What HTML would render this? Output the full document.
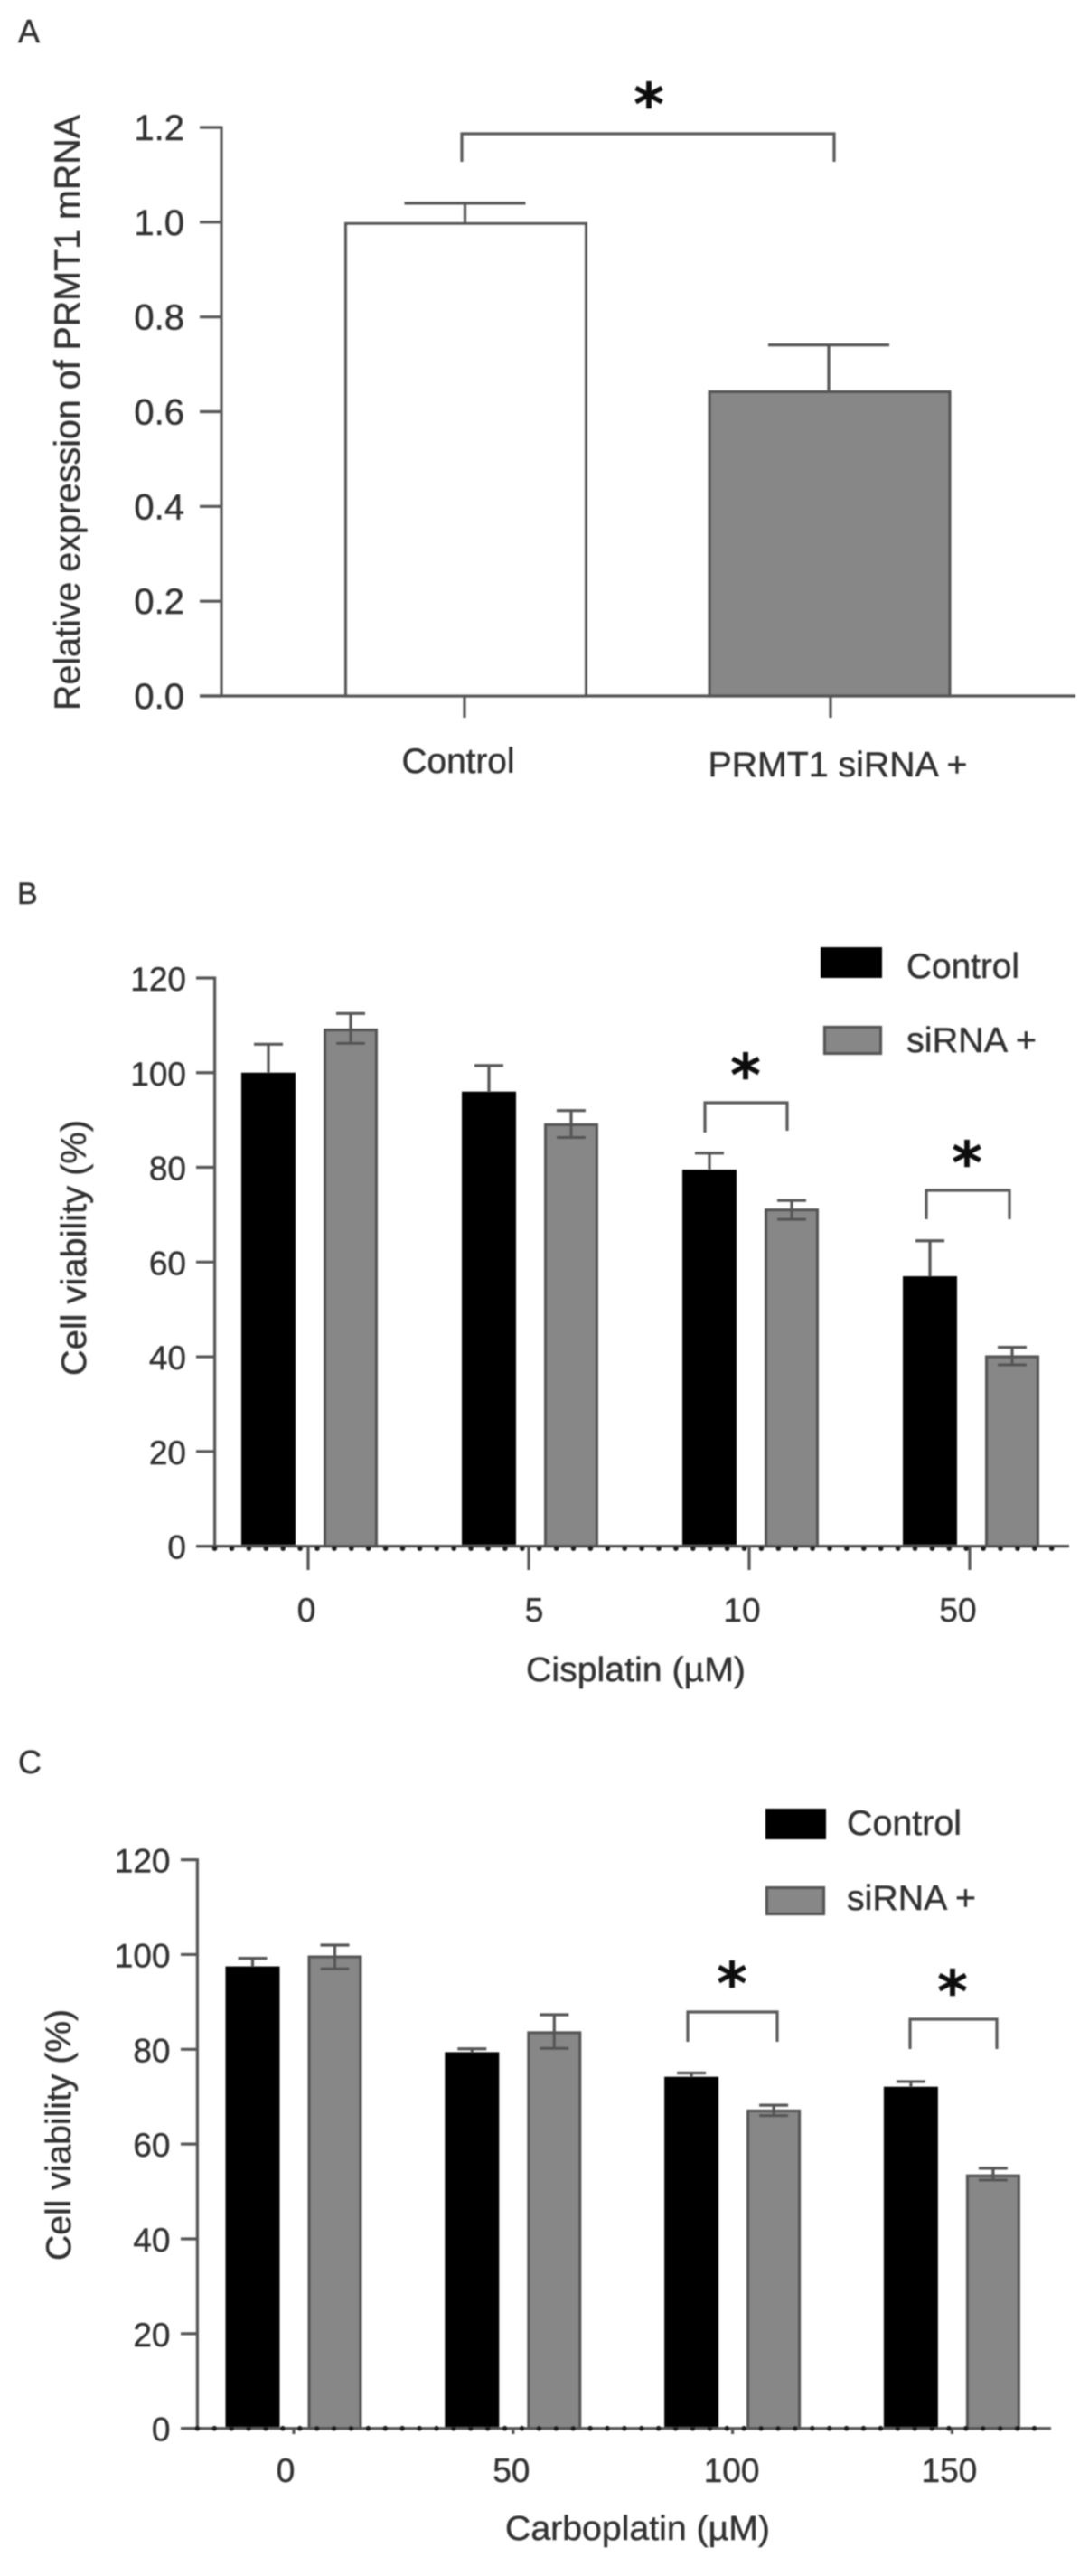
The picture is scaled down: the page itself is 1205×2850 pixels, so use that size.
<!DOCTYPE html>
<html lang="en">
<head>
<meta charset="utf-8">
<title>PRMT1 knockdown charts</title>
<style>
  html, body { margin: 0; padding: 0; background: #fff; }
  svg { display: block; }
  text { font-family: "Liberation Sans", Arial, sans-serif; fill: #333; stroke: #333; stroke-width: 0.45; }
  .star { font-family: "DejaVu Sans", sans-serif; font-weight: bold; font-size: 64px; fill: #111; stroke: #111; text-anchor: middle; }
  .bracket { fill: none; stroke: #5a5a5a; stroke-width: 3.2; }
</style>
</head>
<body>
<svg id="figure" xmlns="http://www.w3.org/2000/svg" width="1205" height="2850" viewBox="0 0 1205 2850">
  <defs>
    <filter id="soft" x="0" y="0" width="1" height="1" filterUnits="objectBoundingBox">
      <feGaussianBlur stdDeviation="0.8"/>
    </filter>
  </defs>
  <rect width="1205" height="2850" fill="#fff"/>
  <g filter="url(#soft)">
    <rect width="1205" height="2850" fill="#fff" fill-opacity="0"/>

    <g id="panel-a">
      <text x="20" y="47" font-size="36">A</text>
      <text transform="translate(88,786) rotate(-90)" font-size="40" textLength="659" lengthAdjust="spacingAndGlyphs">Relative expression of PRMT1 mRNA</text>
      <path class="bracket" d="M511,179V148H923V179"/>
      <text class="star" x="718" y="138">*</text>
    </g>

    <g id="panel-b">
      <text x="19" y="1000" font-size="34">B</text>
      <text transform="translate(95,1522) rotate(-90)" font-size="39" textLength="283" lengthAdjust="spacingAndGlyphs">Cell viability (%)</text>
      <text x="582" y="1860" font-size="38" textLength="243" lengthAdjust="spacingAndGlyphs">Cisplatin (µM)</text>
      <rect x="908" y="1048" width="68" height="34" fill="#000"/>
      <text x="1003" y="1082" font-size="39" textLength="125" lengthAdjust="spacingAndGlyphs">Control</text>
      <rect x="912.5" y="1136.5" width="62" height="29" fill="#878787" stroke="#555" stroke-width="3.2"/>
      <text x="1003" y="1164" font-size="39" textLength="144" lengthAdjust="spacingAndGlyphs">siRNA +</text>
      <path class="bracket" d="M780,1253V1220H871V1251"/>
      <text class="star" x="825" y="1212">*</text>
      <path class="bracket" d="M1025,1349V1317H1117V1349"/>
      <text class="star" x="1070" y="1309">*</text>
    </g>

    <g id="panel-c">
      <text x="20" y="1962" font-size="36">C</text>
      <text transform="translate(78,2501) rotate(-90)" font-size="39" textLength="278" lengthAdjust="spacingAndGlyphs">Cell viability (%)</text>
      <text x="559" y="2810" font-size="38" textLength="293" lengthAdjust="spacingAndGlyphs">Carboplatin (µM)</text>
      <rect x="847" y="2001" width="67" height="34" fill="#000"/>
      <text x="937" y="2030" font-size="39" textLength="127" lengthAdjust="spacingAndGlyphs">Control</text>
      <rect x="848.5" y="2088.5" width="63" height="29" fill="#878787" stroke="#555" stroke-width="3.2"/>
      <text x="937" y="2113" font-size="39" textLength="143" lengthAdjust="spacingAndGlyphs">siRNA +</text>
      <path class="bracket" d="M761,2259V2226H860V2259"/>
      <text class="star" x="810" y="2217">*</text>
      <path class="bracket" d="M1007,2267V2234H1103V2267"/>
      <text class="star" x="1054" y="2226">*</text>
    </g>
  </g>
</svg>
<script>
// Panel A data
var aCategories = ['Control', 'PRMT1 siRNA +'];
var aValues = [0.997, 0.642];
var aErrUpper = [1.04, 0.741];
var aYTicks = [0, 0.2, 0.4, 0.6, 0.8, 1.0, 1.2];

// Panel B data
var bCategories = ['0', '5', '10', '50'];
var bControl = [100, 96, 79.5, 57];
var bControlUpper = [106, 101.5, 83, 64.5];
var bSirna = [109, 89, 71, 40];
var bSirnaUpper = [112.5, 92, 73, 42];
var bSirnaLower = [106.2, 86.3, 69, 38.3];
var bYTicks = [0, 20, 40, 60, 80, 100, 120];

// Panel C data
var cCategories = ['0', '50', '100', '150'];
var cControl = [97.5, 79.4, 74.2, 72.1];
var cControlUpper = [99.2, 80.1, 75, 73.2];
var cSirna = [99.5, 83.5, 67, 53.3];
var cSirnaUpper = [102, 87.3, 68.2, 54.9];
var cSirnaLower = [97, 80.2, 66, 52.4];
var cYTicks = [0, 20, 40, 60, 80, 100, 120];

var NS = 'http://www.w3.org/2000/svg';
var LINE = '#555';
var GREY = '#878787';

function shape(parent, tag, attrs, text) {
  var el = document.createElementNS(NS, tag);
  for (var k in attrs) { el.setAttribute(k, attrs[k]); }
  if (text !== undefined) { el.textContent = text; }
  parent.appendChild(el);
  return el;
}

function segment(parent, x1, y1, x2, y2, width) {
  return shape(parent, 'line', { x1: x1, y1: y1, x2: x2, y2: y2, stroke: LINE, 'stroke-width': width || 3.2 });
}

function makeY(y0, yTop, max) {
  return function (v) { return y0 - v * (y0 - yTop) / max; };
}

function drawYAxis(host, o) {
  var y = o.y;
  var axis = segment(host, o.axisX, y(o.ticks[o.ticks.length - 1]) - 1.5, o.axisX, y(0), 3.2);
  
  
  o.ticks.forEach(function (t) {
    var tick = segment(host, o.tickX, y(t), o.axisX, y(t), 3.2);
    
    
    var label = shape(host, 'text', { x: o.labelX, y: y(t) + o.labelDy, 'font-size': o.fontSize, 'text-anchor': 'end' }, o.format(t));
    
    
  });
}

function drawXAxis(host, o) {
  var line = segment(host, o.x1, o.y0, o.x2, o.y0, 3.2);
  
  
  o.tickXs.forEach(function (tx, i) {
    var tick = segment(host, tx, o.y0, tx, o.tickBottom, 3.2);
    
    
    var label = shape(host, 'text', { x: tx + o.labelShift[i], y: o.labelYs[i], 'font-size': o.fontSize, 'text-anchor': 'middle' }, o.labels[i]);
    if (o.labelLength) {
      label.setAttribute('textLength', o.labelLength[i]);
      label.setAttribute('lengthAdjust', 'spacingAndGlyphs');
    }
    
    
  });
}

function drawBar(host, cx, w, value, y, fill, hasStroke) {
  var top = y(value), base = y(0);
  var inset = hasStroke ? 1.6 : 0;
  var bar = shape(host, 'rect', {
    x: cx - w / 2 + inset, y: top, width: w - 2 * inset, height: base - top,
    fill: fill, stroke: hasStroke ? LINE : 'none', 'stroke-width': hasStroke ? 3.2 : 0
  });
  
  
}

function drawError(host, cx, capW, value, upper, lower, y) {
  var stem = segment(host, cx, y(upper), cx, y(lower === null ? value : lower), 3.2);
  
  
  var capTop = segment(host, cx - capW / 2, y(upper), cx + capW / 2, y(upper), 3.2);
  
  
  if (lower !== null) {
    var capLow = segment(host, cx - capW / 2, y(lower), cx + capW / 2, y(lower), 3.2);
    
    
  }
}

function drawBaselineDots(host, x1, x2, y0, dy) {
  for (var x = x1; x <= x2; x += 18.9) {
    var dot = shape(host, 'circle', { cx: x, cy: y0 + dy, r: 2.8, fill: '#1a1a1a' });
    
    
  }
}

// Panel A
(function () {
  var host = document.getElementById('panel-a');
  var y = makeY(770, 141, 1.2);
  var centers = [515.5, 918];
  var fills = ['#fff', GREY];
  drawYAxis(host, { y: y, ticks: aYTicks, axisX: 245, tickX: 221, labelX: 204, labelDy: 14, fontSize: 40,
    format: function (t) { return t.toFixed(1); } });
  centers.forEach(function (cx, i) {
    drawBar(host, cx, 269, aValues[i], y, fills[i], true);
    drawError(host, cx - 1, 134, aValues[i], aErrUpper[i], null, y);
  });
  drawXAxis(host, { x1: 221, x2: 1190, y0: y(0), tickXs: [514, 919], tickBottom: 794,
    labels: aCategories, labelShift: [-7, 8], labelYs: [855, 859], fontSize: 39, labelLength: [125, 287] });
})();

// Panels B and C
function groupedPanel(o) {
  var host = document.getElementById(o.id);
  var y = makeY(o.y0, o.yTop, 120);
  drawYAxis(host, { y: y, ticks: o.yTicks, axisX: o.axisX, tickX: o.tickX, labelX: o.labelX, labelDy: 14, fontSize: 37,
    format: function (t) { return String(t); } });
  o.categories.forEach(function (c, i) {
    var mid = o.firstMid + i * o.step;
    drawBar(host, mid - 45.5, 60, o.control[i], y, '#000', false);
    drawError(host, mid - 45.5, 32, o.control[i], o.controlUpper[i], null, y);
    drawBar(host, mid + 45.5, 60, o.sirna[i], y, GREY, true);
    drawError(host, mid + 45.5, 32, o.sirna[i], o.sirnaUpper[i], o.sirnaLower[i], y);
  });
  var tickXs = o.categories.map(function (c, i) { return o.firstTick + i * o.step; });
  drawXAxis(host, { x1: o.tickX, x2: o.axisEnd, y0: y(0), tickXs: tickXs, tickBottom: o.tickBottom,
    labels: o.categories, labelShift: o.labelShift,
    labelYs: o.categories.map(function () { return o.labelY; }), fontSize: 37 });
  drawBaselineDots(host, o.axisX, o.axisEnd - 8, y(0), o.dotDy);
}

groupedPanel({ id: 'panel-b', y0: 1710.6, yTop: 1082, yTicks: bYTicks, axisX: 237.6, tickX: 217, labelX: 206,
  categories: bCategories, control: bControl, controlUpper: bControlUpper, sirna: bSirna, sirnaUpper: bSirnaUpper, sirnaLower: bSirnaLower,
  firstMid: 342.5, firstTick: 341, step: 244, axisEnd: 1183, tickBottom: 1737, labelShift: [-2, 6, -8, -13], labelY: 1794, dotDy: 2.5 });

groupedPanel({ id: 'panel-c', y0: 2686.7, yTop: 2057.6, yTicks: cYTicks, axisX: 218.4, tickX: 200, labelX: 188.5,
  categories: cCategories, control: cControl, controlUpper: cControlUpper, sirna: cSirna, sirnaUpper: cSirnaUpper, sirnaLower: cSirnaLower,
  firstMid: 325, firstTick: 325, step: 242.8, axisEnd: 1163, tickBottom: 2693, labelShift: [-9, -2, -1, -3], labelY: 2746, dotDy: 0 });
</script>
</body>
</html>
